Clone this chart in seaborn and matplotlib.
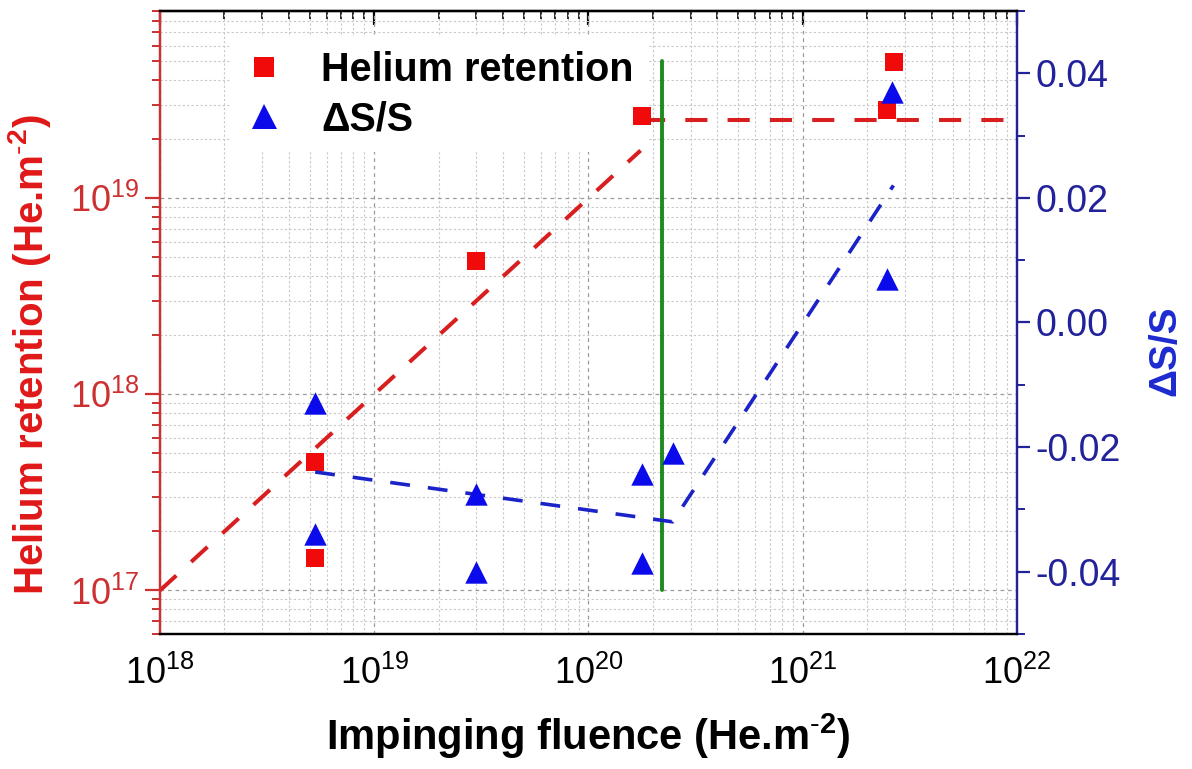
import matplotlib
matplotlib.use("Agg")
import matplotlib.pyplot as plt
import seaborn as sns
from matplotlib.lines import Line2D
from matplotlib.ticker import LogLocator, MultipleLocator, FormatStrFormatter, NullFormatter

# Helium retention measurements (left axis)
ret_fluence = [5.3e18, 5.3e18, 3.0e19, 1.78e20, 2.46e21, 2.66e21]
ret_value = [4.5e17, 1.46e17, 4.8e18, 2.62e19, 2.83e19, 4.97e19]

# Relative change of the S parameter (right axis)
ds_fluence = [5.3e18, 5.3e18, 3.0e19, 3.0e19, 1.78e20, 1.78e20, 2.47e20, 2.47e21, 2.6e21]
ds_value = [-0.013, -0.034, -0.0275, -0.040, -0.0243, -0.0386, -0.021, 0.007, 0.037]

# Trend guides
ret_trend_fluence = [1e18, 1.75e20]
ret_trend_value = [1e17, 1.75e19]
sat_fluence = [1.8e20, 1e22]
sat_value = [2.5e19, 2.5e19]
ds_trend_fluence = [5.3e18, 2.47e20, 2.65e21]
ds_trend_value = [-0.024, -0.032, 0.022]

# Threshold fluence
threshold_fluence = [2.2e20, 2.2e20]
threshold_span = [1e17, 5e19]

RED = "#f00a0a"
RED_LINE = "#d81e1e"
RED_AXIS = "#cc3030"
BLUE = "#0a0aeb"
BLUE_LINE = "#1a22c8"
NAVY = "#22229a"
GREEN = "#1f8a1f"

sns.set_theme(style="white")
plt.rcParams["font.family"] = ["Liberation Sans", "DejaVu Sans"]
plt.rcParams["mathtext.fontset"] = "custom"
plt.rcParams["mathtext.rm"] = "Liberation Sans"
plt.rcParams["mathtext.bf"] = "Liberation Sans:bold"
plt.rcParams["axes.unicode_minus"] = False

fig = plt.figure(figsize=(11.92, 7.69), dpi=100)
ax = fig.add_axes([0.1342, 0.1756, 0.8532 - 0.1342, 0.9857 - 0.1756])
ax.set_xscale("log")
ax.set_yscale("log")
ax.set_xlim(1e18, 1e22)
ax.set_ylim(6e16, 9e19)

ax2 = ax.twinx()
ax2.set_ylim(-0.05, 0.05)

# grid
ax.grid(True, which="major", color="#9a9a9a", linestyle=(0, (3, 3)), linewidth=0.9)
ax.grid(True, which="minor", color="#c8c8c8", linestyle=(0, (2, 2)), linewidth=0.8)
ax.set_axisbelow(True)

# trend lines and data on the left axis
sns.lineplot(x=ret_trend_fluence, y=ret_trend_value, ax=ax, sort=False, estimator=None,
             color=RED_LINE, linewidth=2.9, linestyle=(0, (5.5, 5.0)), zorder=3)
sns.lineplot(x=sat_fluence, y=sat_value, ax=ax, sort=False, estimator=None,
             color=RED_LINE, linewidth=2.9, linestyle=(0, (5.5, 5.0)), zorder=3)
sns.lineplot(x=threshold_fluence, y=threshold_span, ax=ax, sort=False, estimator=None,
             color=GREEN, linewidth=2.8, zorder=3)
sns.scatterplot(x=ret_fluence, y=ret_value, ax=ax, marker="s", s=175, color=RED,
                linewidth=0, zorder=4, legend=False)

# trend line and data on the right axis
sns.lineplot(x=ds_trend_fluence, y=ds_trend_value, ax=ax2, sort=False, estimator=None,
             color=BLUE_LINE, linewidth=2.6, linestyle=(0, (5.5, 5.0)), zorder=3)
sns.scatterplot(x=ds_fluence, y=ds_value, ax=ax2, marker="^", s=260, color=BLUE,
                linewidth=0, zorder=4, legend=False)

# log ticks
ax.xaxis.set_major_locator(LogLocator(base=10, numticks=10))
ax.xaxis.set_minor_locator(LogLocator(base=10, subs=range(2, 10), numticks=50))
ax.yaxis.set_major_locator(LogLocator(base=10, numticks=10))
ax.yaxis.set_minor_locator(LogLocator(base=10, subs=range(2, 10), numticks=50))
ax.yaxis.set_minor_formatter(NullFormatter())
ax.xaxis.set_minor_formatter(NullFormatter())

ax.tick_params(axis="x", which="major", direction="out", length=10, width=1.6,
               labelsize=26, colors="black", pad=6, top=False)
ax.tick_params(axis="x", which="minor", direction="out", length=6, width=1.4, top=False)
ax.tick_params(axis="y", which="major", direction="out", length=11, width=1.6,
               labelsize=26, colors=RED_AXIS, pad=4, right=False)
ax.tick_params(axis="y", which="minor", direction="out", length=6, width=1.4,
               colors=RED_AXIS, right=False)

top = ax.secondary_xaxis("top", functions=(lambda v: v, lambda v: v))
top.xaxis.set_major_locator(LogLocator(base=10, numticks=10))
top.xaxis.set_minor_locator(LogLocator(base=10, subs=range(2, 10), numticks=50))
top.tick_params(axis="x", which="major", direction="in", length=10, width=1.6,
                labeltop=False, colors="black")
top.tick_params(axis="x", which="minor", direction="in", length=6, width=1.4)
top.xaxis.set_major_formatter(NullFormatter())
top.xaxis.set_minor_formatter(NullFormatter())
top.spines["top"].set_color("black")
top.spines["top"].set_linewidth(1.6)

ax2.yaxis.set_major_locator(MultipleLocator(0.02))
ax2.yaxis.set_minor_locator(MultipleLocator(0.01))
ax2.yaxis.set_major_formatter(FormatStrFormatter("%.2f"))
ax2.tick_params(axis="y", which="major", direction="out", length=9, width=1.6,
                labelsize=27, colors=NAVY, pad=4)
ax2.tick_params(axis="y", which="minor", direction="out", length=6, width=1.4, colors=NAVY)

for a in (ax, ax2):
    for s in a.spines.values():
        s.set_linewidth(1.6)
    a.spines["bottom"].set_color("black")
    a.spines["top"].set_color("black")
    a.spines["left"].set_color(RED_AXIS)
    a.spines["right"].set_color(NAVY)

ax.set_xlabel(r"Impinging fluence (He.m$^{\mathbf{\text{-}2}}$)", fontsize=30,
              fontweight="bold", color="black", labelpad=14)
ax.set_ylabel(r"Helium retention (He.m$^{\mathbf{\text{-}2}}$)", fontsize=29,
              fontweight="bold", color="#e01818")
ax.yaxis.set_label_coords(-0.125, 0.448)
ax2.set_ylabel("ΔS/S", fontsize=28, fontweight="bold", color="#1c2ad0")
ax2.yaxis.set_label_coords(1.152, 0.454)

handles = [
    Line2D([], [], marker="s", linestyle="none", markersize=14, color=RED, markeredgewidth=0),
    Line2D([], [], marker="^", linestyle="none", markersize=18, color=BLUE, markeredgewidth=0),
]
leg = ax.legend(handles, ["Helium retention", "ΔS/S"], loc="center left",
                bbox_to_anchor=(0.082, 0.866), borderaxespad=0, frameon=True,
                facecolor="white", edgecolor="none", framealpha=1.0,
                prop={"family": "Liberation Sans", "weight": "bold", "size": 28.5},
                labelcolor="black",
                handlelength=1.0, handletextpad=0.94, labelspacing=0.28, borderpad=0.35)
leg.set_zorder(2.5)

fig.savefig("out.png", dpi=100)
